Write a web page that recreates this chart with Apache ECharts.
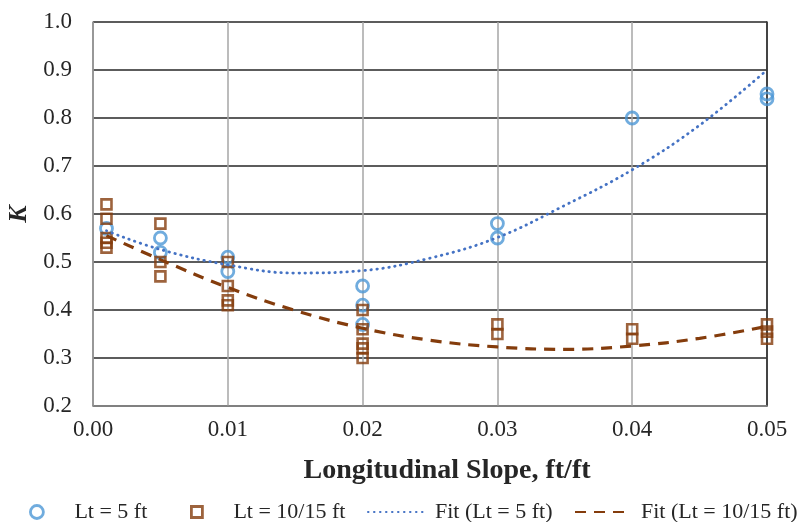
<!DOCTYPE html>
<html>
<head>
<meta charset="utf-8">
<script src="https://cdn.jsdelivr.net/npm/echarts@6/dist/echarts.min.js"></script>
<style>
  html, body { margin: 0; padding: 0; background: #fff; }
  #chart { width: 810px; height: 522px; }
</style>
</head>
<body>
<div id="chart"></div>
<script>
// Measured K values versus longitudinal slope
const slope5 = [0.001, 0.005, 0.005, 0.01, 0.01, 0.02, 0.02, 0.02, 0.03, 0.03, 0.04, 0.05, 0.05];
const k5     = [0.57,  0.55,  0.52,  0.51, 0.48, 0.45, 0.41, 0.37, 0.58, 0.55, 0.80, 0.85, 0.84];

const slope10 = [0.001, 0.001, 0.001, 0.001, 0.001, 0.005, 0.005, 0.005, 0.01, 0.01, 0.01, 0.01,
                 0.02, 0.02, 0.02, 0.02, 0.02, 0.03, 0.03, 0.04, 0.04, 0.05, 0.05, 0.05];
const k10     = [0.62, 0.59, 0.55, 0.54, 0.53, 0.58, 0.50, 0.47, 0.50, 0.45, 0.42, 0.41,
                 0.40, 0.36, 0.33, 0.32, 0.30, 0.37, 0.35, 0.36, 0.34, 0.37, 0.355, 0.34];

// Fitted trend curves, sampled along the slope axis
const fitSlope = [0.001, 0.005, 0.01, 0.015, 0.02, 0.025, 0.03, 0.035, 0.04, 0.045, 0.05];
const fit5     = [0.565, 0.526, 0.494, 0.477, 0.482, 0.508, 0.551, 0.618, 0.692, 0.785, 0.90];
const fit10    = [0.555, 0.505, 0.447, 0.399, 0.362, 0.337, 0.323, 0.318, 0.325, 0.341, 0.366];

const xTicks = ['0.00', '0.01', '0.02', '0.03', '0.04', '0.05'];
const yTicks = ['0.2', '0.3', '0.4', '0.5', '0.6', '0.7', '0.8', '0.9', '1.0'];

const names = ['Lt = 5 ft', 'Lt = 10/15 ft', 'Fit (Lt = 5 ft)', 'Fit (Lt = 10/15 ft)'];

const FONT = '"Liberation Serif", "Times New Roman", serif';
const BLUE_MARK = '#4c97d6';
const BLUE_LINE = '#4472c4';
const BROWN = '#843c0c';
const CLEAR = 'rgba(255,255,255,0)';

const pair = (xs, ys) => xs.map((x, i) => [x, ys[i]]);

const legendText = (pad) => ({
  fontFamily: FONT, fontSize: 22, color: '#262626', lineHeight: 24, padding: [0, 0, 0, pad]
});

const chart = echarts.init(document.getElementById('chart'), null, { renderer: 'canvas' });

chart.setOption({
  animation: false,
  backgroundColor: '#ffffff',
  grid: { left: 93, right: 43, top: 22, bottom: 116, containLabel: false, outerBoundsMode: 'none' },
  xAxis: {
    type: 'value',
    min: 0, max: 0.05, interval: 0.01,
    name: 'Longitudinal Slope, ft/ft',
    nameLocation: 'middle',
    nameGap: 51,
    nameMoveOverlap: false,
    nameTextStyle: { fontFamily: FONT, fontSize: 28, fontWeight: 'bold', color: '#262626', padding: [0, 0, 0, 34] },
    axisLine: { show: true, lineStyle: { color: '#8c8c8c', width: 1.5 } },
    axisTick: { show: false },
    axisLabel: {
      margin: 12, fontFamily: FONT, fontSize: 23, color: '#262626',
      formatter: (v) => xTicks[Math.round(v / 0.01)]
    },
    splitLine: { show: true, lineStyle: { color: '#a6a6a6', width: 1.5 } }
  },
  yAxis: [{
    type: 'value',
    min: 0.2, max: 1.0, interval: 0.1,
    name: 'K',
    nameLocation: 'middle',
    nameGap: 61,
    nameMoveOverlap: false,
    nameRotate: 90,
    nameTextStyle: { fontFamily: FONT, fontSize: 26, fontWeight: 'bold', fontStyle: 'italic', color: '#262626', padding: [8, 0, 0, 0] },
    axisLine: { show: true, lineStyle: { color: '#8c8c8c', width: 1.5 } },
    axisTick: { show: false },
    axisLabel: {
      margin: 21, fontFamily: FONT, fontSize: 23, color: '#262626',
      formatter: (v) => yTicks[Math.round((v - 0.2) / 0.1)]
    },
    splitLine: { show: true, lineStyle: { color: '#262626', width: 1.6 } }
  }, {
    // right-hand frame of the plot area
    type: 'value',
    position: 'right',
    min: 0.2, max: 1.0, interval: 0.1,
    axisLine: { show: true, lineStyle: { color: '#262626', width: 1.6 } },
    axisTick: { show: false },
    axisLabel: { show: false },
    splitLine: { show: false }
  }],
  legend: [
    { data: [{ name: names[0], icon: 'circle' }], left: 29, top: 500, padding: 0, itemWidth: 13, itemHeight: 13,
      itemStyle: { color: CLEAR, borderColor: BLUE_MARK, borderWidth: 2.8 },
      textStyle: legendText(26) },
    { data: [{ name: names[1], icon: 'rect' }], left: 190, top: 500, padding: 0, itemWidth: 11, itemHeight: 11,
      itemStyle: { color: CLEAR, borderColor: BROWN, borderWidth: 2.8 },
      textStyle: legendText(26) },
    { data: [names[2]], left: 367, top: 500, padding: 0, itemWidth: 57, itemHeight: 14,
      itemStyle: { opacity: 0 },
      textStyle: legendText(5) },
    { data: [names[3]], left: 574, top: 500, padding: 0, itemWidth: 54, itemHeight: 14,
      itemStyle: { opacity: 0 },
      textStyle: legendText(7) }
  ],
  series: [
    {
      name: names[0], type: 'scatter',
      data: pair(slope5, k5),
      symbol: 'circle', symbolSize: 12,
      itemStyle: { color: CLEAR, borderColor: BLUE_MARK, borderWidth: 2.8 },
      z: 3
    },
    {
      name: names[1], type: 'scatter',
      data: pair(slope10, k10),
      symbol: 'rect', symbolSize: 10,
      itemStyle: { color: CLEAR, borderColor: BROWN, borderWidth: 2.6 },
      z: 4
    },
    {
      name: names[2], type: 'line',
      data: pair(fitSlope, fit5),
      smooth: 0.4, showSymbol: false, symbol: 'none',
      lineStyle: { color: BLUE_LINE, width: 2.8, type: [0.5, 5.5], cap: 'round' },
      itemStyle: { color: BLUE_LINE },
      z: 5
    },
    {
      name: names[3], type: 'line',
      data: pair(fitSlope, fit10),
      smooth: 0.4, showSymbol: false, symbol: 'none',
      lineStyle: { color: BROWN, width: 3.2, type: [11, 8] },
      itemStyle: { color: BROWN },
      z: 5
    }
  ]
});
</script>
</body>
</html>
